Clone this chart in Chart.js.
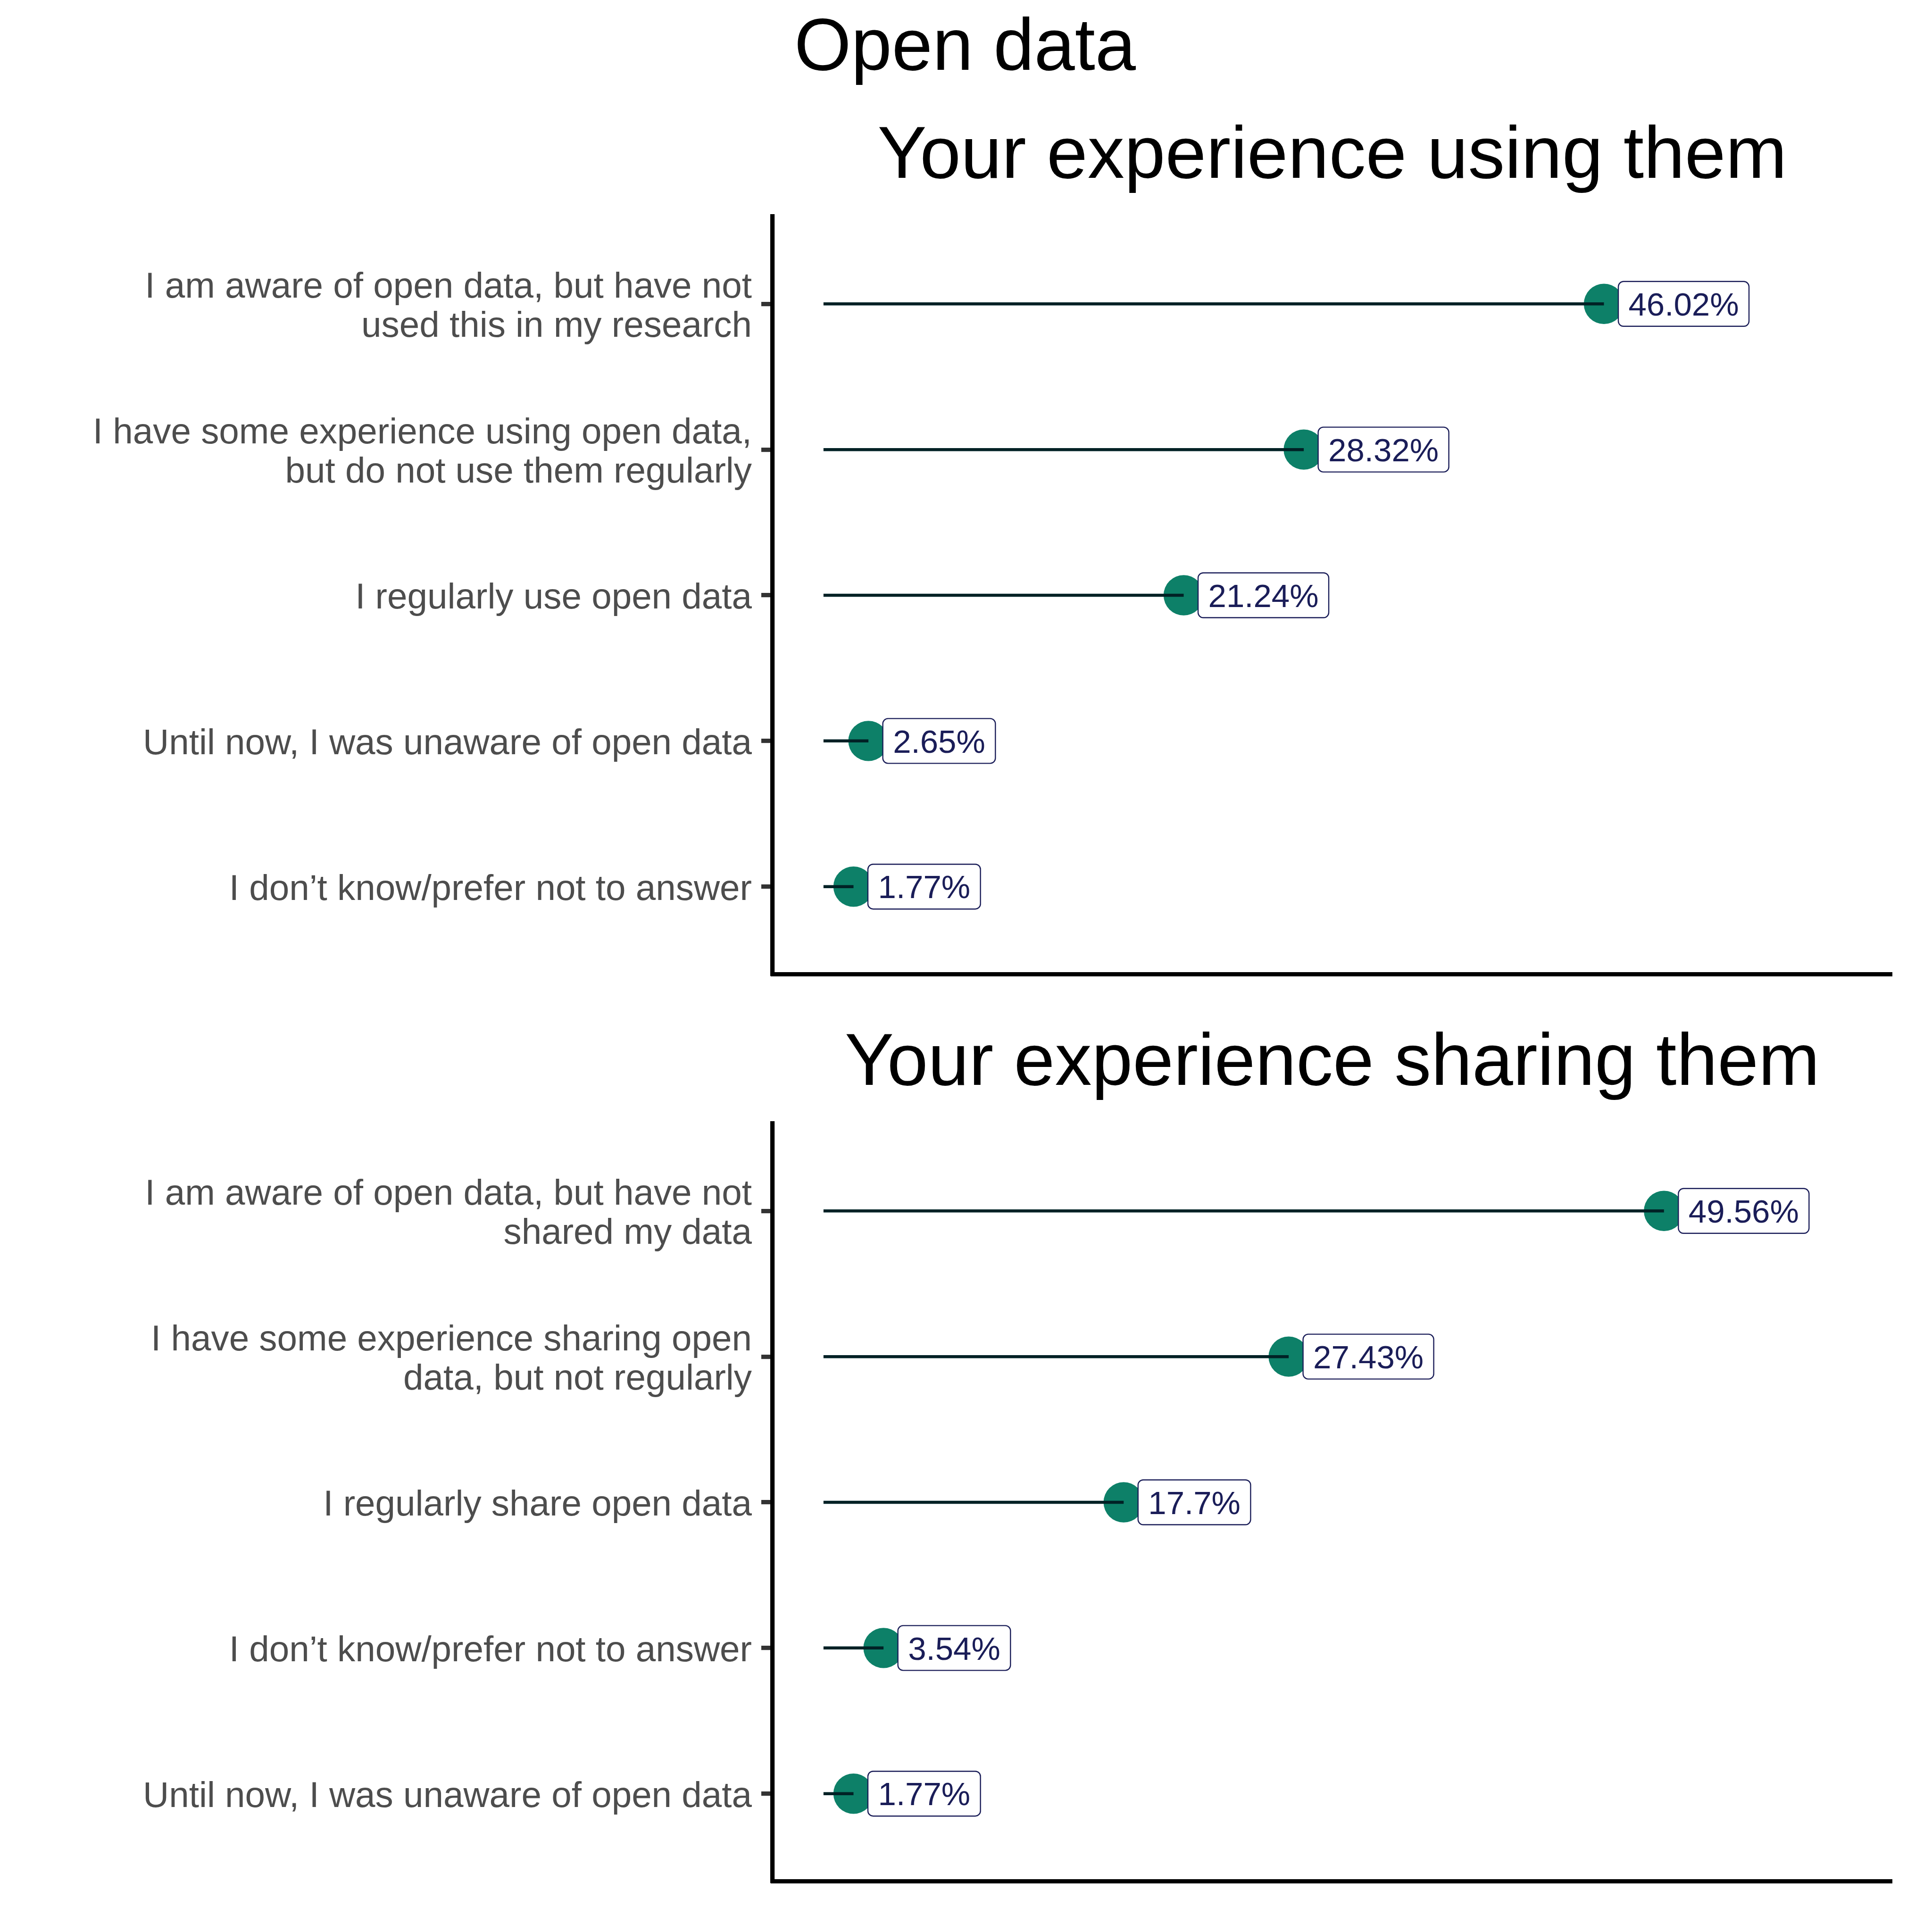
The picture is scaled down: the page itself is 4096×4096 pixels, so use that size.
<!DOCTYPE html>
<html>
<head>
<meta charset="utf-8">
<script src="https://cdn.jsdelivr.net/npm/chart.js@4"></script>
<style>
html,body{margin:0;padding:0;background:#ffffff;}
#wrap{position:relative;width:4096px;height:4096px;background:#ffffff;}
canvas{position:absolute;left:0;top:0;}
</style>
</head>
<body>
<div id="wrap">
<canvas id="c1" width="4096" height="4096"></canvas>
<canvas id="c2" width="4096" height="4096"></canvas>
</div>
<script>
// ---- data ----
const mainTitle = "Open data";

const useTitle = "Your experience using them";
const useCategories = [
  ["I am aware of open data, but have not", "used this in my research"],
  ["I have some experience using open data,", "but do not use them regularly"],
  "I regularly use open data",
  "Until now, I was unaware of open data",
  "I don\u2019t know/prefer not to answer"
];
const useValues = [46.02, 28.32, 21.24, 2.65, 1.77];

const shareTitle = "Your experience sharing them";
const shareCategories = [
  ["I am aware of open data, but have not", "shared my data"],
  ["I have some experience sharing open", "data, but not regularly"],
  "I regularly share open data",
  "I don\u2019t know/prefer not to answer",
  "Until now, I was unaware of open data"
];
const shareValues = [49.56, 27.43, 17.7, 3.54, 1.77];

const xLimits = [-3, 63];

// ---- styles ----
const FONT = "'Liberation Sans', Arial, Helvetica, sans-serif";
const DOT = '#0d8068';
const SEG = '#002125';
const NAVY = '#1a1d58';
const LABEL_SIZE = 69;
const LABEL_PAD = 21.5;

Chart.defaults.font.family = FONT;

const valueLabels = {
  id: 'valueLabels',
  afterDatasetsDraw(chart, args, opts) {
    const ctx = chart.ctx, xs = chart.scales.x, ys = chart.scales.y;
    ctx.save();
    ctx.font = LABEL_SIZE + 'px ' + FONT;
    opts.values.forEach((v, i) => {
      const text = v + '%';
      const px = xs.getPixelForValue(v) + 30.5;
      const py = ys.getPixelForValue(i);
      const w = ctx.measureText(text).width + 2 * LABEL_PAD;
      const h = 95;
      ctx.beginPath();
      ctx.roundRect(px, py - h / 2, w, h, 11);
      ctx.fillStyle = '#ffffff';
      ctx.fill();
      ctx.lineWidth = 2.4;
      ctx.strokeStyle = NAVY;
      ctx.stroke();
      ctx.fillStyle = NAVY;
      ctx.textAlign = 'left';
      ctx.textBaseline = 'alphabetic';
      ctx.fillText(text, px + LABEL_PAD, py + 0.358 * LABEL_SIZE);
    });
    ctx.restore();
  }
};

const titles = {
  id: 'titles',
  afterDraw(chart, args, opts) {
    const ctx = chart.ctx, a = chart.chartArea;
    ctx.save();
    ctx.fillStyle = '#000000';
    ctx.textBaseline = 'alphabetic';
    ctx.textAlign = 'center';
    ctx.font = '156px ' + FONT;
    ctx.fillText(opts.text, (a.left + a.right) / 2, a.top - 82.5);
    if (opts.main) {
      ctx.textAlign = 'left';
      ctx.font = '155px ' + FONT;
      ctx.fillText(opts.main, 1684, 148);
    }
    ctx.restore();
  }
};

function makePanel(canvasId, cats, vals, subtitle, main, padTop, padBottom) {
  const segs = vals.map((v, i) => ({
    data: [{x: 0, y: i}, {x: v, y: i}],
    showLine: true,
    borderColor: SEG,
    borderWidth: 6.5,
    borderCapStyle: 'butt',
    pointRadius: 0,
    order: 0
  }));
  const dots = {
    data: vals.map((v, i) => ({x: v, y: i})),
    showLine: false,
    pointRadius: 42.7,
    pointBackgroundColor: DOT,
    pointBorderWidth: 0,
    order: 1
  };
  return new Chart(document.getElementById(canvasId), {
    type: 'scatter',
    data: {datasets: [...segs, dots]},
    options: {
      responsive: false,
      animation: false,
      devicePixelRatio: 1,
      layout: {padding: {top: padTop, bottom: padBottom, left: 0, right: 85}},
      plugins: {
        legend: {display: false},
        tooltip: {enabled: false},
        valueLabels: {values: vals},
        titles: {text: subtitle, main: main}
      },
      scales: {
        x: {
          type: 'linear', min: xLimits[0], max: xLimits[1],
          ticks: {display: false},
          grid: {display: false, drawTicks: false},
          border: {display: true, color: '#000000', width: 8.9},
          afterFit: s => { s.height = 0; }
        },
        y: {
          type: 'linear', reverse: true, min: -0.6, max: cats.length - 0.4,
          afterBuildTicks: s => { s.ticks = cats.map((_, i) => ({value: i})); },
          afterFit: s => { s.width = 1638; },
          ticks: {
            autoSkip: false,
            callback: (v, idx) => cats[idx],
            color: '#4d4d4d',
            font: {size: 76.4, lineHeight: 83 / 76.4},
            padding: 20,
            labelOffset: 7
          },
          grid: {display: true, drawOnChartArea: false, drawTicks: true, tickLength: 24, lineWidth: 9.2, color: '#333333'},
          border: {display: true, color: '#000000', width: 9.2}
        }
      }
    },
    plugins: [valueLabels, titles]
  });
}

makePanel('c1', useCategories, useValues, useTitle, mainTitle, 459, 4096 - 2065);
makePanel('c2', shareCategories, shareValues, shareTitle, null, 2382, 4096 - 3988);
</script>
</body>
</html>
